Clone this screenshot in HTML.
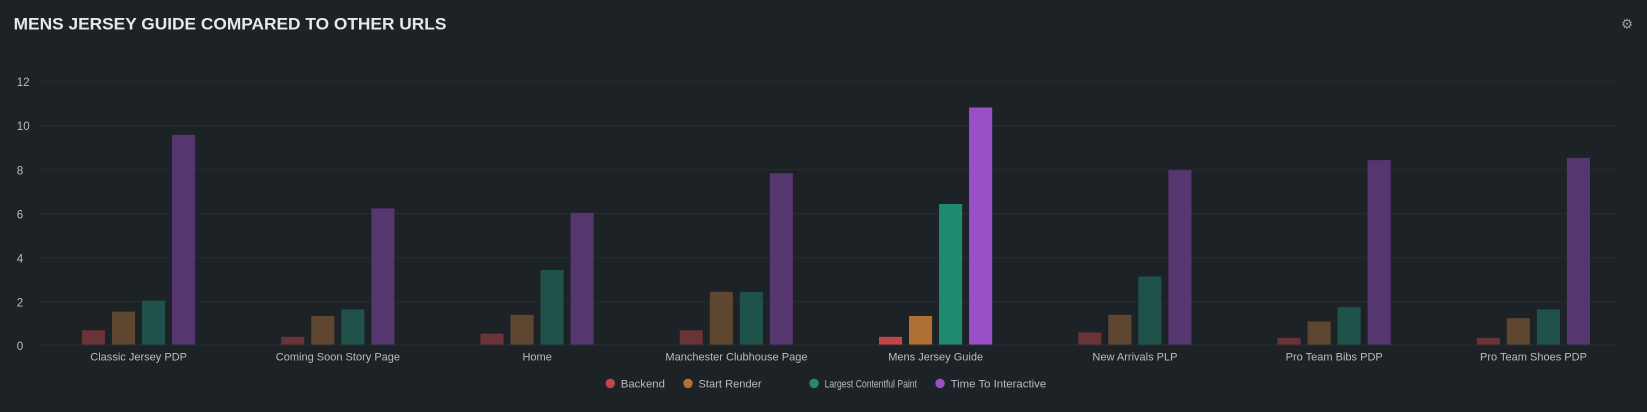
<!DOCTYPE html>
<html><head><meta charset="utf-8"><style>
body{margin:0;background:#1c2226;width:1647px;height:407px;overflow:hidden;font-family:"Liberation Sans",sans-serif}
</style></head><body>
<svg width="1647" height="407" xmlns="http://www.w3.org/2000/svg">
<rect width="1647" height="407" fill="#1c2226"/>
<g transform="scale(1.0504)">
<text x="13" y="28" fill="#e6e8ea" font-size="16" font-weight="bold" font-family="Liberation Sans, sans-serif" textLength="412" lengthAdjust="spacingAndGlyphs">MENS JERSEY GUIDE COMPARED TO OTHER URLS</text>
<text x="1549" y="27" fill="#9aa0a6" font-size="13" text-anchor="middle">⚙</text>
<g stroke="#262d31" stroke-width="1">
<line x1="38" x2="1540" y1="77.5" y2="77.5"/><line x1="38" x2="1540" y1="119.5" y2="119.5"/>
<line x1="38" x2="1540" y1="161.5" y2="161.5"/><line x1="38" x2="1540" y1="203.5" y2="203.5"/>
<line x1="38" x2="1540" y1="245.5" y2="245.5"/><line x1="38" x2="1540" y1="287.5" y2="287.5"/>
<line x1="38" x2="1540" y1="328.5" y2="328.5"/>
</g>
<g fill="#b8bcc0" font-size="11" text-anchor="start">
<text x="16" y="82">12</text><text x="16" y="124">10</text><text x="16" y="166">8</text>
<text x="16" y="208">6</text><text x="16" y="250">4</text><text x="16" y="292">2</text><text x="16" y="333">0</text>
</g>
<g id="bars"></g>
<g fill="#b8bcc0" font-size="10.5" text-anchor="middle" id="labels"></g>
<g font-size="10.5" fill="#b8bcc0">
<circle cx="581" cy="365" r="4.5" fill="#c0464a"/><text x="591" y="369" textLength="42" lengthAdjust="spacingAndGlyphs">Backend</text>
<circle cx="655" cy="365" r="4.5" fill="#b07035"/><text x="665" y="369" textLength="60" lengthAdjust="spacingAndGlyphs">Start Render</text>
<circle cx="775" cy="365" r="4.5" fill="#1f8a70"/><text x="785" y="369" textLength="88" lengthAdjust="spacingAndGlyphs">Largest Contentful Paint</text>
<circle cx="895" cy="365" r="4.5" fill="#9a4fc8"/><text x="905" y="369" textLength="91" lengthAdjust="spacingAndGlyphs">Time To Interactive</text>
</g>
</g>
</svg>
<script>
var names=["Classic Jersey PDP","Coming Soon Story Page","Home","Manchester Clubhouse Page","Mens Jersey Guide","New Arrivals PLP","Pro Team Bibs PDP","Pro Team Shoes PDP"];
var vals=[[0.65,1.5,2.0,9.55],[0.35,1.3,1.6,6.2],[0.5,1.35,3.4,6.0],[0.65,2.4,2.4,7.8],[0.35,1.3,6.4,10.8],[0.55,1.35,3.1,7.95],[0.3,1.05,1.7,8.4],[0.3,1.2,1.6,8.5]];
var dim=["#6a3337","#5e4630","#1f5248","#55366f"],hi=["#c0464a","#b07035","#1f8a70","#9a4fc8"];
var ns="http://www.w3.org/2000/svg",b=document.getElementById("bars"),l=document.getElementById("labels");
for(var i=0;i<8;i++){var c=131+189.7*i;
 for(var j=0;j<4;j++){var h=vals[i][j]*20.9,r=document.createElementNS(ns,"rect");
  r.setAttribute("x",c-53+j*28.6);r.setAttribute("width",22);r.setAttribute("y",328-h);r.setAttribute("height",h);
  r.setAttribute("fill",i==4?hi[j]:dim[j]);b.appendChild(r);}
 var t=document.createElementNS(ns,"text");t.setAttribute("x",c+1);t.setAttribute("y",343);t.textContent=names[i];l.appendChild(t);}
</script>
</body></html>
